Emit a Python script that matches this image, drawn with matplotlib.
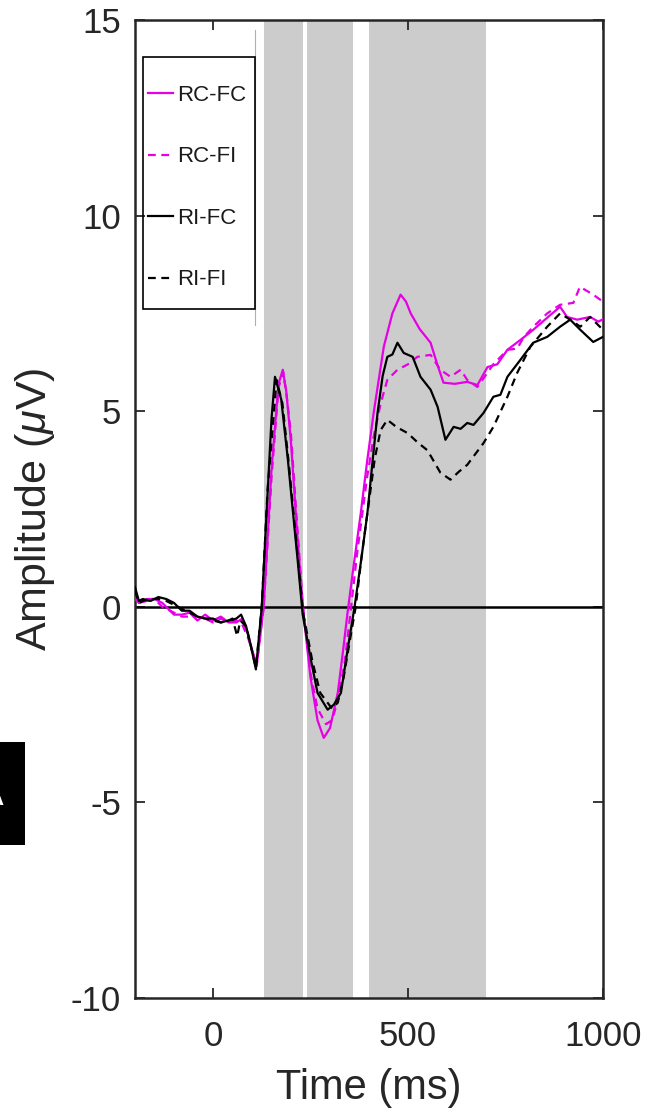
import matplotlib
matplotlib.use("Agg")
import matplotlib.pyplot as plt
from matplotlib.patches import Rectangle

plt.rcParams['font.family'] = ['Liberation Sans', 'DejaVu Sans']
plt.rcParams['mathtext.fontset'] = 'custom'
plt.rcParams['mathtext.it'] = 'Liberation Sans:italic'
plt.rcParams['mathtext.rm'] = 'Liberation Sans'
plt.rcParams['axes.unicode_minus'] = False

# ---- data (ms, microvolts) ----
t_rcfc = [-200, -190, -170, -150, -130, -100, -80, -60, -40, -20, 0, 20, 40, 60, 75, 90, 100, 112,
          130, 150, 168, 179, 188, 200, 215, 230, 250, 268, 284, 300, 320, 335, 345, 360, 379, 395,
          412, 438, 460, 481, 495, 507, 530, 558, 575, 591, 620, 652, 678, 704, 729, 755, 788, 821,
          857, 890, 908, 934, 967, 988, 1000]
v_rcfc = [0.3, 0.1, 0.15, 0.2, 0.1, -0.2, -0.2, -0.15, -0.35, -0.2, -0.35, -0.25, -0.4, -0.4, -0.3,
          -0.7, -1.1, -1.5, 0.0, 3.5, 5.7, 6.06, 5.5, 4.2, 2.0, 0.0, -1.8, -2.9, -3.35, -3.1, -2.2,
          -1.0, -0.15, 1.0, 2.4, 3.7, 4.96, 6.65, 7.5, 7.98, 7.8, 7.5, 7.1, 6.75, 6.2, 5.73, 5.7,
          5.75, 5.67, 6.13, 6.2, 6.57, 6.82, 7.08, 7.39, 7.67, 7.41, 7.34, 7.41, 7.29, 7.35]

t_rcfi = [-200, -190, -170, -150, -130, -100, -80, -60, -40, -20, 0, 20, 40, 60, 75, 90, 100, 112,
          130, 150, 168, 180, 190, 200, 215, 230, 250, 268, 290, 305, 320, 338, 353, 370, 395, 412,
          430, 447, 473, 500, 524, 558, 583, 609, 635, 652, 678, 719, 755, 780, 796, 821, 832, 857,
          890, 924, 941, 975, 1000]
v_rcfi = [0.2, 0.1, 0.2, 0.2, 0.0, -0.15, -0.25, -0.25, -0.25, -0.3, -0.4, -0.3, -0.4, -0.35, -0.45,
          -0.8, -1.1, -1.5, 0.0, 3.3, 5.6, 6.0, 5.3, 4.4, 2.2, 0.1, -1.7, -2.6, -3.0, -2.9, -2.4,
          -1.4, -0.1, 1.4, 3.3, 4.35, 5.2, 5.8, 6.06, 6.2, 6.39, 6.44, 6.06, 5.88, 6.06, 5.8, 5.62,
          6.2, 6.57, 6.6, 6.88, 7.16, 7.26, 7.5, 7.72, 7.77, 8.18, 7.98, 7.8]

t_rifc = [-200, -190, -180, -160, -140, -120, -100, -80, -60, -40, -20, 0, 20, 40, 60, 72, 85, 97,
          110, 125, 140, 150, 159, 175, 192, 217, 230, 251, 268, 294, 310, 328, 348, 363, 380, 396,
          410, 422, 435, 447, 460, 473, 489, 512, 532, 558, 576, 596, 617, 635, 652, 668, 694, 719,
          737, 755, 788, 821, 857, 890, 916, 942, 975, 1000]
v_rifc = [0.5, 0.15, 0.2, 0.15, 0.25, 0.2, 0.1, -0.1, -0.1, -0.25, -0.3, -0.3, -0.4, -0.35, -0.3,
          -0.2, -0.5, -1.0, -1.6, 0.0, 2.9, 4.8, 5.88, 5.3, 3.76, 1.2, -0.2, -1.35, -2.2, -2.63,
          -2.5, -2.2, -0.92, 0.0, 1.2, 2.4, 3.8, 4.96, 5.9, 6.39, 6.45, 6.75, 6.49, 6.39, 5.88, 5.55,
          5.11, 4.27, 4.6, 4.55, 4.7, 4.65, 4.96, 5.37, 5.42, 5.88, 6.31, 6.75, 6.9, 7.16, 7.34,
          7.08, 6.77, 6.9]

t_rifi = [-200, -190, -180, -160, -140, -120, -100, -80, -60, -40, -20, 0, 20, 40, 50, 62, 70, 85,
          97, 110, 125, 140, 163, 178, 195, 220, 232, 255, 275, 305, 320, 335, 352, 366, 380, 396,
          415, 430, 447, 470, 499, 525, 550, 583, 609, 630, 652, 694, 719, 755, 780, 814, 857, 890,
          916, 942, 967, 1000]
v_rifi = [0.4, 0.1, 0.15, 0.2, 0.2, 0.15, 0.05, -0.05, -0.15, -0.25, -0.3, -0.35, -0.4, -0.35,
          -0.3, -0.75, -0.35, -0.5, -1.0, -1.55, 0.0, 3.0, 5.8, 5.2, 3.6, 1.0, -0.2, -1.4, -2.2,
          -2.6, -2.45, -1.8, -0.8, 0.0, 1.2, 2.4, 3.8, 4.52, 4.78, 4.6, 4.44, 4.2, 4.0, 3.43, 3.25,
          3.45, 3.63, 4.19, 4.6, 5.37, 5.98, 6.65, 7.16, 7.5, 7.34, 7.16, 7.41, 7.08]

windows = [(130, 230), (240, 360), (400, 700)]
labels = ['RC-FC', 'RC-FI', 'RI-FC', 'RI-FI']
x_ticks = [0, 500, 1000]
y_ticks = [-10, -5, 0, 5, 10, 15]

# ---- figure ----
fig = plt.figure(figsize=(6.69, 11.12), dpi=100)
ax = fig.add_axes([0.2018, 0.1025, 0.6995, 0.8795])

dark = '#262626'
mag = '#e600e6'
for a, b in windows:
    ax.axvspan(a, b, color='#cccccc', lw=0, zorder=0)

ax.axhline(0, color='black', lw=1.8, zorder=2)

dash = (0, (3.5, 2.5))
ax.plot(t_rcfc, v_rcfc, color=mag, lw=1.6, label=labels[0], zorder=3)
ax.plot(t_rcfi, v_rcfi, color=mag, lw=1.6, ls=dash, label=labels[1], zorder=3)
ax.plot(t_rifc, v_rifc, color='black', lw=1.6, label=labels[2], zorder=4)
ax.plot(t_rifi, v_rifi, color='black', lw=1.6, ls=dash, label=labels[3], zorder=4)

ax.set_xlim(-200, 1000)
ax.set_ylim(-10, 15)
ax.set_xticks(x_ticks)
ax.set_yticks(y_ticks)
ax.tick_params(direction='in', length=7, width=1.3, top=True, right=True,
               labelsize=25, colors=dark)
ax.tick_params(axis='x', pad=16)
ax.tick_params(axis='y', pad=10)
for s in ax.spines.values():
    s.set_linewidth(1.8)
    s.set_color(dark)

ax.set_xlabel('Time (ms)', fontsize=30, color=dark)
ax.set_ylabel(r'Amplitude ($\mu$V)', fontsize=31, color=dark)
ax.xaxis.set_label_coords(0.5, -0.0716)
ax.yaxis.set_label_coords(-0.1667, 0.5)

# legend: entries without frame, plus a separate rectangular frame
leg = ax.legend(loc='upper left', bbox_to_anchor=(0.028, 0.9335), fontsize=16,
                frameon=False, handlelength=1.1, handletextpad=0.2, labelspacing=1.82,
                borderpad=0, borderaxespad=0)
for txt in leg.get_texts():
    txt.set_color('#1a1a1a')
ax.add_patch(Rectangle((0.017, 0.705), 0.239, 0.257, transform=ax.transAxes,
                       facecolor='none', edgecolor='black', lw=1.2, zorder=6))

# thin grey artifact line next to legend
ax.plot([0.256, 0.256], [0.688, 0.990], transform=ax.transAxes, color='#b0b0b0', lw=0.8,
        zorder=5, clip_on=False)

# cropped panel label at left edge
fig.patches.append(Rectangle((0.0, 0.240), 0.0374, 0.093, transform=fig.transFigure,
                             facecolor='black', edgecolor='none'))
fig.text(0.005, 0.281, 'A', color='white', fontsize=16, ha='right', va='center',
         fontweight='bold')

fig.savefig('out.png', dpi=100)
